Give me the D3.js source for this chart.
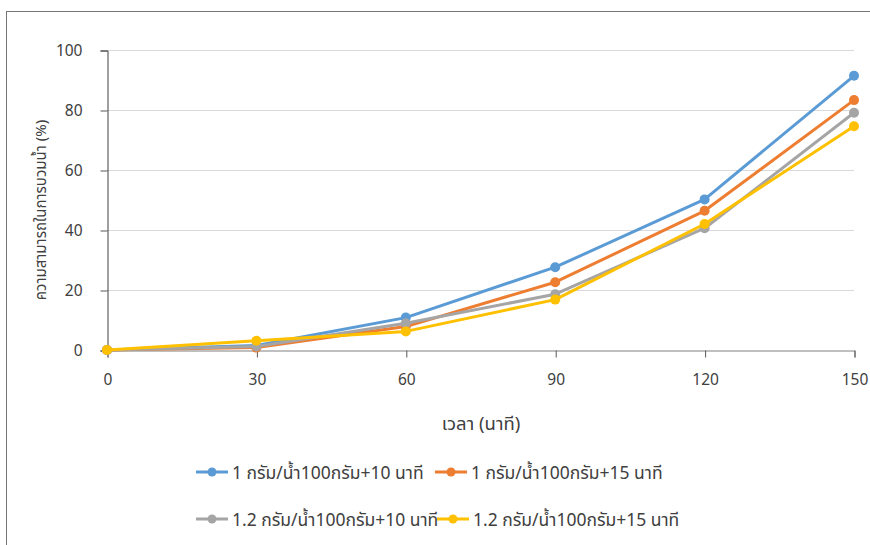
<!DOCTYPE html>
<html><head><meta charset="utf-8">
<script src="https://cdn.jsdelivr.net/npm/d3@7/dist/d3.min.js"></script>
<style>
html,body{margin:0;padding:0;background:#fff;}
text{font-family:"Noto Sans","Noto Sans Thai",Tahoma,sans-serif;}
</style></head>
<body><svg id="c" width="870" height="545"></svg>
<script>
const times = [0, 30, 60, 90, 120, 150];
const seriesNames = [
  "1 กรัม/น้ำ100กรัม+10 นาที",
  "1 กรัม/น้ำ100กรัม+15 นาที",
  "1.2 กรัม/น้ำ100กรัม+10 นาที",
  "1.2 กรัม/น้ำ100กรัม+15 นาที"
];
const s1 = [0, 1.5, 10.8, 27.6, 50.2, 91.4];
const s2 = [0, 0.8, 7.8, 22.6, 46.4, 83.3];
const s3 = [0, 1.2, 8.9, 18.6, 40.6, 79.1];
const s4 = [0, 3.1, 6.2, 16.8, 42.0, 74.6];
const yTicks = [0, 20, 40, 60, 80, 100];
const colors = ["#5B9BD5", "#ED7D31", "#A5A5A5", "#FFC000"];
const allSeries = [s1, s2, s3, s4];

const svg = d3.select("#c");
// outer frame
svg.append("rect").attr("x",6.5).attr("y",11.5).attr("width",900).attr("height",600)
  .attr("fill","none").attr("stroke","#767676").attr("stroke-width",1);

const x = d3.scaleLinear().domain([0,150]).range([107,854]);
const y = d3.scaleLinear().domain([0,100]).range([350,50]);

// gridlines
svg.append("g").selectAll("line").data(yTicks.filter(d=>d>0)).join("line")
  .attr("x1",107).attr("x2",854).attr("y1",d=>y(d)+0.5).attr("y2",d=>y(d)+0.5)
  .attr("stroke","#d9d9d9").attr("stroke-width",1);

// y axis
const yAxis = svg.append("g").attr("transform","translate(107.5,0.5)")
  .call(d3.axisLeft(y).tickValues(yTicks).tickSize(7).tickPadding(18).tickFormat(d3.format("d")));
yAxis.select(".domain").attr("stroke","#404040");
yAxis.selectAll(".tick line").attr("stroke","#595959");
yAxis.selectAll("text").attr("font-size",15.5).attr("fill","#404040");

// x axis
const xAxis = svg.append("g").attr("transform","translate(0.5,350.5)")
  .call(d3.axisBottom(x).tickValues(times).tickSize(7).tickPadding(16).tickFormat(d3.format("d")));
xAxis.select(".domain").attr("stroke","#808080");
xAxis.selectAll(".tick line").attr("stroke","#595959");
xAxis.selectAll("text").attr("font-size",15.5).attr("fill","#404040");

// titles
svg.append("text").attr("transform","translate(46,210) rotate(-90)").attr("text-anchor","middle")
  .attr("font-size",15).attr("fill","#404040").text("ความสามารถในการบวมน้ำ (%)");
svg.append("text").attr("x",481).attr("y",430).attr("text-anchor","middle")
  .attr("font-size",18.5).attr("fill","#404040").text("เวลา (นาที)");

// lines
const line = d3.line().x((d,i)=>x(times[i])).y(d=>y(d));
allSeries.forEach((s,k)=>{
  const g = svg.append("g");
  g.append("path").datum(s).attr("d",line).attr("fill","none")
    .attr("stroke",colors[k]).attr("stroke-width",3).attr("stroke-linejoin","round");
  g.selectAll("circle").data(s).join("circle")
    .attr("cx",(d,i)=>x(times[i])).attr("cy",d=>y(d)).attr("r",5).attr("fill",colors[k]);
});

// legend
const legPos = [[196,472],[435,472],[196,519],[437,519]];
seriesNames.forEach((n,k)=>{
  const [lx,ly] = legPos[k];
  const g = svg.append("g");
  g.append("line").attr("x1",lx).attr("x2",lx+32).attr("y1",ly).attr("y2",ly)
    .attr("stroke",colors[k]).attr("stroke-width",3);
  g.append("circle").attr("cx",lx+16).attr("cy",ly).attr("r",4.5).attr("fill",colors[k]);
  g.append("text").attr("x",lx+36).attr("y",ly+6.5).attr("font-size",17.5).attr("fill","#404040").text(n);
});
</script></body></html>
